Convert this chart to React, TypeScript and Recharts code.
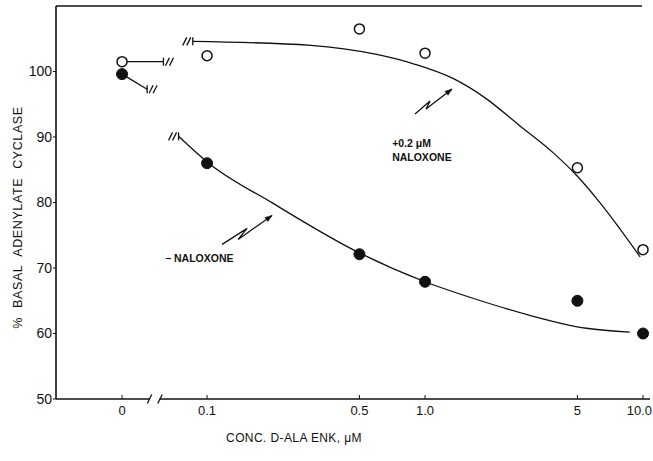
import {
  Label,
  Line,
  LineChart,
  ReferenceDot,
  ReferenceLine,
  XAxis,
  YAxis,
} from "recharts";

// measured points: D-Ala enkephalin dose (uM) vs % basal adenylate cyclase
const concentrations = [0, 0.1, 0.5, 1.0, 5, 10];
const plusNaloxone = [101.5, 102.4, 106.5, 102.8, 85.3, 72.8];
const minusNaloxone = [99.6, 86.0, 72.1, 67.9, 65.0, 60.0];

// hand-drawn fitted curves
const plusFitConc = [0.086, 0.3, 0.6, 0.9, 1.35, 1.9, 2.7, 3.9, 5, 6.3, 9.7];
const plusFitValue = [104.6, 104.0, 102.6, 101.1, 98.9, 95.9, 91.8, 87.5, 84.0, 80.1, 71.7];
const minusFitConc = [0.074, 0.1, 0.2, 0.5, 1.0, 1.8, 3.0, 5.5, 8.7];
const minusFitValue = [90.1, 86.2, 79.9, 72.3, 67.9, 65.0, 62.8, 60.8, 60.2];

// short stubs from the zero-dose points to the axis break
const plusStubValue = [101.5, 101.5];
const minusStubValue = [99.6, 97.3];

const xTickConc = [0, 0.1, 0.5, 1.0, 5, 10];
const xTickLabels = ["0", "0.1", "0.5", "1.0", "5", "10.0"];
const yTicks = [50, 60, 70, 80, 90, 100];

// x axis is log10(conc); zero dose is parked left of a break
const ZERO_POS = -1.39;
const X_MIN = -1.693;
const X_MAX = 1.032;
const GAP_LEFT = -1.262;
const GAP_RIGHT = -1.218;
const PLUS_STUB_END = -1.2;
const MINUS_STUB_END = -1.275;
const TOP_END = 0.995;

const pos = (c: number) => (c === 0 ? ZERO_POS : Math.log10(c));

const FONT = "Liberation Sans, Arial, sans-serif";
const INK = "#111";

const plusPoints = concentrations.map((c, i) => ({ x: pos(c), y: plusNaloxone[i] }));
const minusPoints = concentrations.map((c, i) => ({ x: pos(c), y: minusNaloxone[i] }));
const plusFit = plusFitConc.map((c, i) => ({ x: pos(c), y: plusFitValue[i] }));
const minusFit = minusFitConc.map((c, i) => ({ x: pos(c), y: minusFitValue[i] }));
const plusStub = [
  { x: ZERO_POS, y: plusStubValue[0] },
  { x: PLUS_STUB_END, y: plusStubValue[1] },
];
const minusStub = [
  { x: ZERO_POS, y: minusStubValue[0] },
  { x: MINUS_STUB_END, y: minusStubValue[1] },
];
const xTicks = xTickConc.map(pos);

function tickIndex(v: number) {
  return xTicks.findIndex((t) => Math.abs(t - v) < 1e-6);
}

function breakMark(cx: number, cy: number, dir: number, key: string) {
  return (
    <g key={key} stroke={INK} strokeWidth={1.3}>
      <line x1={cx} y1={cy - 4} x2={cx} y2={cy + 4} />
      <line x1={cx + dir * 4 - 2} y1={cy + 4} x2={cx + dir * 4 + 2} y2={cy - 4} />
      <line x1={cx + dir * 8 - 2} y1={cy + 4} x2={cx + dir * 8 + 2} y2={cy - 4} />
    </g>
  );
}

// eslint-disable-next-line @typescript-eslint/no-explicit-any
const stubEndDot = (p: any) =>
  p.index === 1 ? breakMark(p.cx, p.cy, 1, `se-${p.cx}`) : <g key={`sn-${p.cx}-${p.index}`} />;

// eslint-disable-next-line @typescript-eslint/no-explicit-any
const curveStartDot = (p: any) =>
  p.index === 0 ? breakMark(p.cx, p.cy, -1, `cs-${p.cx}`) : <g key={`cn-${p.cx}-${p.index}`} />;

// eslint-disable-next-line @typescript-eslint/no-explicit-any
function XTick(props: any) {
  const { x, y, payload } = props;
  const i = tickIndex(payload.value);
  const last = i === xTicks.length - 1;
  return (
    <g>
      <line x1={x} y1={y} x2={x} y2={y - 4} stroke={INK} strokeWidth={1} />
      <text
        x={last ? x + 9 : x}
        y={y + 16}
        textAnchor={last ? "end" : "middle"}
        fontFamily={FONT}
        fontSize={13}
        fill={INK}
      >
        {i >= 0 ? xTickLabels[i] : payload.value}
      </text>
    </g>
  );
}

function zigArrow(cx: number, cy: number, pts: number[][]) {
  const d = pts.map(([dx, dy], i) => `${i ? "L" : "M"}${cx + dx},${cy + dy}`).join(" ");
  const [ax, ay] = pts[pts.length - 1];
  const [bx, by] = pts[pts.length - 2];
  const ang = Math.atan2(ay - by, ax - bx);
  const tipX = cx + ax;
  const tipY = cy + ay;
  const l = 7;
  const w = 2.5;
  const baseX = tipX - l * Math.cos(ang);
  const baseY = tipY - l * Math.sin(ang);
  const head = `M${tipX},${tipY} L${baseX - w * Math.sin(ang)},${baseY + w * Math.cos(ang)} L${baseX + w * Math.sin(ang)},${baseY - w * Math.cos(ang)} Z`;
  return (
    <g>
      <path d={d} fill="none" stroke={INK} strokeWidth={1.3} />
      <path d={head} fill={INK} stroke={INK} strokeWidth={0.5} />
    </g>
  );
}

// eslint-disable-next-line @typescript-eslint/no-explicit-any
function YTitle(props: any) {
  const vb = props.viewBox;
  const x = vb.x + 13;
  const y = vb.y + vb.height / 2 + 15;
  return (
    <text
      x={x}
      y={y}
      transform={`rotate(-90 ${x} ${y})`}
      textAnchor="middle"
      dominantBaseline="middle"
      fontFamily={FONT}
      fontSize={12.5}
      letterSpacing={0.6}
      wordSpacing={5}
      fill={INK}
    >
      % BASAL ADENYLATE CYCLASE
    </text>
  );
}

// eslint-disable-next-line @typescript-eslint/no-explicit-any
function XTitle(props: any) {
  const vb = props.viewBox;
  return (
    <text
      x={vb.x + 238}
      y={vb.y + 43}
      textAnchor="middle"
      fontFamily={FONT}
      fontSize={12}
      letterSpacing={0.4}
      fill={INK}
    >
      CONC. D-ALA ENK, μM
    </text>
  );
}

const annoText = {
  fontFamily: FONT,
  fontSize: 10.5,
  fontWeight: 700,
  fill: INK,
};

export default function App() {
  return (
    <div style={{ position: "absolute", left: 0, top: 0, background: "#fff" }}>
      <LineChart width={653} height={461} margin={{ top: 6, right: 3, left: 6, bottom: 22 }}>
        <XAxis
          type="number"
          dataKey="x"
          domain={[X_MIN, X_MAX]}
          ticks={xTicks}
          interval={0}
          allowDataOverflow
          axisLine={false}
          tickLine={false}
          tickSize={0}
          tickMargin={0}
          height={40}
          tick={<XTick />}
        >
          <Label content={<XTitle />} />
        </XAxis>
        <YAxis
          type="number"
          dataKey="y"
          domain={[50, 110]}
          ticks={yTicks}
          interval={0}
          allowDataOverflow
          width={50}
          axisLine={{ stroke: INK, strokeWidth: 1.6 }}
          tickLine={{ stroke: INK }}
          tickSize={3}
          tickMargin={1}
          tick={{ fill: INK, fontSize: 14, fontFamily: FONT }}
        >
          <Label content={<YTitle />} />
        </YAxis>

        {/* top frame line */}
        <ReferenceLine
          segment={[{ x: X_MIN, y: 110 }, { x: TOP_END, y: 110 }]}
          stroke={INK}
          strokeWidth={1.6}
          ifOverflow="visible"
        />
        {/* broken x axis */}
        <ReferenceLine
          segment={[{ x: X_MIN, y: 50 }, { x: GAP_LEFT, y: 50 }]}
          stroke={INK}
          strokeWidth={1.6}
          ifOverflow="visible"
        />
        <ReferenceLine
          segment={[{ x: GAP_RIGHT, y: 50 }, { x: X_MAX, y: 50 }]}
          stroke={INK}
          strokeWidth={1.6}
          ifOverflow="visible"
        />
        <ReferenceLine
          segment={[{ x: GAP_LEFT - 0.012, y: 49.3 }, { x: GAP_LEFT + 0.008, y: 50.7 }]}
          stroke={INK}
          strokeWidth={1.3}
          ifOverflow="visible"
        />
        <ReferenceLine
          segment={[{ x: GAP_RIGHT - 0.008, y: 49.3 }, { x: GAP_RIGHT + 0.012, y: 50.7 }]}
          stroke={INK}
          strokeWidth={1.3}
          ifOverflow="visible"
        />

        <Line
          data={plusFit}
          dataKey="y"
          type="monotone"
          stroke={INK}
          strokeWidth={1.3}
          dot={curveStartDot}
          activeDot={false}
          isAnimationActive={false}
        />
        <Line
          data={minusFit}
          dataKey="y"
          type="monotone"
          stroke={INK}
          strokeWidth={1.3}
          dot={curveStartDot}
          activeDot={false}
          isAnimationActive={false}
        />
        <Line
          data={plusStub}
          dataKey="y"
          type="linear"
          stroke={INK}
          strokeWidth={1.3}
          dot={stubEndDot}
          activeDot={false}
          isAnimationActive={false}
        />
        <Line
          data={minusStub}
          dataKey="y"
          type="linear"
          stroke={INK}
          strokeWidth={1.3}
          dot={stubEndDot}
          activeDot={false}
          isAnimationActive={false}
        />
        <Line
          data={plusPoints}
          dataKey="y"
          stroke="none"
          dot={{ r: 5, fill: "#fff", stroke: INK, strokeWidth: 1.5 }}
          activeDot={false}
          isAnimationActive={false}
        />
        <Line
          data={minusPoints}
          dataKey="y"
          stroke="none"
          dot={{ r: 5.5, fill: INK, stroke: INK, strokeWidth: 1 }}
          activeDot={false}
          isAnimationActive={false}
        />

        {/* annotations */}
        <ReferenceDot
          x={-0.931}
          y={73.6}
          ifOverflow="visible"
          shape={(p: { cx: number; cy: number }) =>
            zigArrow(p.cx, p.cy, [[0, 0], [25, -16], [16, -5], [50, -29]])
          }
        />
        <ReferenceDot
          x={-1.193}
          y={71.3}
          ifOverflow="visible"
          shape={(p: { cx: number; cy: number }) => (
            <text x={p.cx} y={p.cy} dominantBaseline="middle" {...annoText}>
              − NALOXONE
            </text>
          )}
        />
        <ReferenceDot
          x={-0.046}
          y={93.5}
          ifOverflow="visible"
          shape={(p: { cx: number; cy: number }) =>
            zigArrow(p.cx, p.cy, [[0, 0], [15, -13], [11, -5], [37, -25]])
          }
        />
        <ReferenceDot
          x={-0.151}
          y={88.4}
          ifOverflow="visible"
          shape={(p: { cx: number; cy: number }) => (
            <text x={p.cx} y={p.cy} {...annoText}>
              +0.2 μM
            </text>
          )}
        />
        <ReferenceDot
          x={-0.151}
          y={86.3}
          ifOverflow="visible"
          shape={(p: { cx: number; cy: number }) => (
            <text x={p.cx} y={p.cy} {...annoText}>
              NALOXONE
            </text>
          )}
        />
      </LineChart>
    </div>
  );
}
